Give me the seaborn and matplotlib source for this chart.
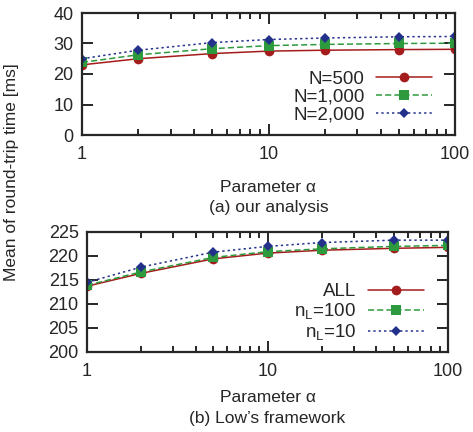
import matplotlib
matplotlib.use("Agg")
import matplotlib.pyplot as plt
import matplotlib.ticker as mticker
import seaborn as sns
import pandas as pd

# x positions (parameter alpha)
alpha = [1, 2, 5, 10, 20, 50, 100]

# (a) our analysis
top_labels = ["N=500", "N=1,000", "N=2,000"]
n500 = [23.0, 25.0, 26.7, 27.5, 27.8, 28.0, 28.1]
n1000 = [23.8, 26.3, 28.3, 29.3, 29.7, 30.0, 30.1]
n2000 = [25.0, 27.8, 30.3, 31.3, 31.8, 32.2, 32.3]

# (b) Low's framework
bot_labels = ["ALL", "n$_\\mathregular{L}$=100", "n$_\\mathregular{L}$=10"]
all_vals = [213.7, 216.4, 219.4, 220.6, 221.2, 221.6, 221.8]
nl100 = [213.9, 216.7, 219.7, 220.9, 221.5, 222.0, 222.2]
nl10 = [214.5, 217.7, 220.8, 222.0, 222.8, 223.3, 223.3]

colors = ["#a51c1c", "#2e9a3e", "#23318a"]
markers = ["o", "s", "D"]
dashes = [(None, None), (4, 2), (1.5, 2)]
FS = 12.5      # axis labels / captions
TICK_FS = 13
LEG_FS = 13.5
W, H = 473, 432


def long_frame(labels, series):
    rows = []
    for lab, vals in zip(labels, series):
        for a, v in zip(alpha, vals):
            rows.append({"alpha": a, "value": v, "series": lab})
    return pd.DataFrame(rows)


sns.set_style("ticks")
plt.rcParams["font.family"] = ["Liberation Sans", "DejaVu Sans"]
plt.rcParams["font.size"] = FS
plt.rcParams["axes.linewidth"] = 1.6

fig = plt.figure(figsize=(W / 100, H / 100), dpi=100)
ax1 = fig.add_axes([82 / W, 1 - 135 / H, 373 / W, 122 / H])
ax2 = fig.add_axes([87 / W, 1 - 352 / H, 361 / W, 120 / H])


def draw(ax, labels, series, ylim, yticks, xlab_y, cap_y, caption, leg_anchor):
    df = long_frame(labels, series)
    sns.lineplot(data=df, x="alpha", y="value", hue="series", style="series",
                 hue_order=labels, style_order=labels,
                 palette=dict(zip(labels, colors)),
                 markers=dict(zip(labels, markers)),
                 dashes=dict(zip(labels, dashes)),
                 markersize=7, markeredgewidth=0, linewidth=1.1, ax=ax)
    ax.set_xscale("log")
    ax.set_xlim(1, 100)
    ax.set_ylim(*ylim)
    ax.set_yticks(yticks)
    ax.xaxis.set_major_formatter(mticker.FuncFormatter(lambda v, p: f"{v:g}"))
    ax.xaxis.set_minor_formatter(mticker.NullFormatter())
    ax.tick_params(which="both", direction="in", top=True, right=True,
                   width=1.4, labelsize=TICK_FS)
    ax.tick_params(which="major", length=8, pad=6)
    ax.tick_params(axis="x", which="major", pad=8)
    ax.tick_params(which="minor", length=4)
    ax.set_xlabel("")
    ax.set_ylabel("")
    pos = ax.get_position()
    xc = (pos.x0 + pos.x1) / 2
    fig.text(xc, 1 - xlab_y / H, "Parameter α", ha="center", va="center",
             fontsize=FS)
    fig.text(xc, 1 - cap_y / H, caption, ha="center", va="center",
             fontsize=FS)
    leg = ax.legend(loc="center right", bbox_to_anchor=leg_anchor,
                    frameon=False, markerfirst=False, handlelength=3.0,
                    handletextpad=0.6, labelspacing=0.05, fontsize=LEG_FS,
                    borderpad=0, borderaxespad=0)
    for h, m in zip(leg.legend_handles, markers):
        h.set_linewidth(1.1)
        if m == "D":
            h.set_markersize(5.5)
    for line, m in zip(ax.get_lines(), markers):
        if m == "D":
            line.set_markersize(5.5)


draw(ax1, top_labels, [n500, n1000, n2000], (0, 40), [0, 10, 20, 30, 40],
     188, 208, "(a) our analysis", ((432 - 82) / 373, (135 - 97) / 122))
draw(ax2, bot_labels, [all_vals, nl100, nl10], (200, 225),
     [200, 205, 210, 215, 220, 225], 398, 419, "(b) Low’s framework",
     ((424 - 87) / 361, (352 - 313) / 120))

fig.text(12 / W, 1 - 172 / H, "Mean of round-trip time [ms]", rotation=90,
         ha="center", va="center", fontsize=FS)

fig.savefig("out.png", dpi=100)
